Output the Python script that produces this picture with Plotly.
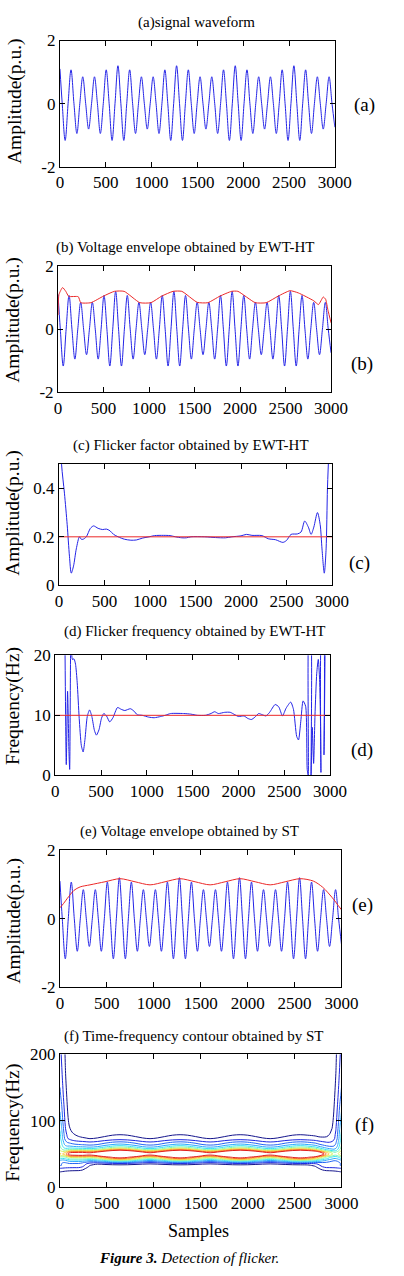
import plotly.graph_objects as go

W, H = 404, 1276
FONT = "Liberation Serif"

# ---------------- data ----------------
x_ticks = [0, 500, 1000, 1500, 2000, 2500, 3000]

# signal waveform: extrema and zero crossings
wave_x = [0, 25, 57, 89, 121, 153, 185, 217, 249, 281, 313, 345, 377, 409, 441, 473, 505, 537, 569,
          601, 633, 665, 697, 729, 761, 793, 825, 857, 889, 921, 953, 985, 1017, 1049, 1081, 1113,
          1145, 1177, 1209, 1241, 1273, 1305, 1337, 1369, 1401, 1433, 1465, 1497, 1529, 1561, 1593,
          1625, 1657, 1689, 1721, 1753, 1785, 1817, 1849, 1881, 1913, 1945, 1977, 2009, 2041, 2073,
          2105, 2137, 2169, 2201, 2233, 2265, 2297, 2329, 2361, 2393, 2425, 2457, 2489, 2521, 2553,
          2585, 2617, 2649, 2681, 2713, 2745, 2777, 2809, 2841, 2873, 2905, 2937, 2969, 3000]
wave_y = [1.1,
          0, -1.17, 0, 1.07, 0, -0.95, 0, 0.85, 0, -0.81, 0, 0.85, 0, -0.95, 0, 1.07, 0, -1.17, 0, 1.2,
          0, -1.17, 0, 1.07, 0, -0.95, 0, 0.85, 0, -0.81, 0, 0.85, 0, -0.95, 0, 1.07, 0, -1.17, 0, 1.2,
          0, -1.17, 0, 1.07, 0, -0.95, 0, 0.85, 0, -0.81, 0, 0.85, 0, -0.95, 0, 1.07, 0, -1.17, 0, 1.2,
          0, -1.17, 0, 1.07, 0, -0.95, 0, 0.85, 0, -0.81, 0, 0.85, 0, -0.95, 0, 1.07, 0, -1.17, 0, 1.2,
          0, -1.17, 0, 1.07, 0, -0.95, 0, 0.85, 0, -0.81, 0, 0.85,
          0, -0.75]

# (b) EWT-HT voltage envelope
env_ewt_x = [0, 10, 50, 85, 118, 222, 250, 361, 500, 620, 726, 899, 1021, 1140, 1264, 1360, 1530,
             1646, 1780, 1907, 1976, 2167, 2288, 2420, 2549, 2640, 2810, 2862, 2914, 2940, 2966, 3000]
env_ewt_y = [0.45, 1.1, 1.32, 1.2, 1.04, 1.03, 0.84, 0.84, 1.05, 1.2, 1.2, 0.84, 0.84, 1.05, 1.2, 1.2, 0.85,
             0.84, 1.05, 1.2, 1.2, 0.84, 0.84, 1.05, 1.22, 1.15, 0.9, 0.78, 1.02, 0.95, 0.6, 0.2]

# (c) flicker factor
flick_x = [5, 28, 60, 90, 115, 135, 160, 190, 225, 245, 265, 300, 345, 380, 430, 480, 520, 560, 600, 650,
           720, 790, 850, 920, 990, 1050, 1150, 1220, 1280, 1350, 1400, 1450, 1600, 1720, 1830, 1900, 2000,
           2060, 2120, 2230, 2300, 2380, 2460, 2500, 2550, 2620, 2660, 2700, 2740, 2770, 2800, 2840, 2870,
           2890, 2915, 2935, 2950, 2965, 2985]
flick_y = [0.75, 0.5, 0.38, 0.25, 0.12, 0.05, 0.08, 0.15, 0.2, 0.19, 0.19, 0.2, 0.235, 0.245, 0.235, 0.23,
           0.232, 0.225, 0.21, 0.2, 0.19, 0.186, 0.187, 0.195, 0.2, 0.205, 0.206, 0.205, 0.2, 0.196, 0.196,
           0.2, 0.2, 0.197, 0.196, 0.2, 0.204, 0.21, 0.206, 0.205, 0.192, 0.188, 0.177, 0.185, 0.21, 0.212,
           0.22, 0.265, 0.24, 0.21, 0.24, 0.3, 0.25, 0.15, 0.05, 0.15, 0.4, 0.55, 0.75]
flick_ref_x = [0, 3000]
flick_ref_y = [0.2, 0.2]

# (d) flicker frequency
ffreq_x = [100, 121, 135, 150, 158, 172, 188, 205, 222, 240, 262, 285, 305, 325, 350, 375, 400, 428, 450,
           478, 505, 530, 560, 595, 630, 680, 720, 760, 820, 860, 895, 950, 1020, 1080, 1150, 1200, 1260,
           1400, 1480, 1550, 1640, 1700, 1740, 1780, 1850, 1910, 1960, 2000, 2060, 2100, 2140, 2180, 2220,
           2260, 2300, 2340, 2400, 2440, 2480, 2520, 2570, 2600, 2635, 2655, 2680, 2705, 2733, 2750, 2761,
           2772, 2785, 2792, 2805, 2820, 2835, 2854, 2871, 2885, 2895, 2900, 2910, 2925, 2933, 2947]
ffreq_y = [35, 1.8, 14, 4, 1.0, 25, 19.3, 19.4, 18.5, 15.5, 9.5, 5.0, 3.9, 6.0, 9.8, 10.9, 9.8, 7.5, 6.7,
           7.6, 9.5, 10.3, 9.9, 8.9, 9.6, 11.3, 11.0, 10.8, 11.1, 10.7, 10.1, 10.0, 9.7, 9.6, 9.8, 10.0, 10.3,
           10.3, 10.2, 10.0, 10.0, 10.3, 10.6, 10.3, 10.5, 10.5, 10.1, 9.8, 9.9, 9.5, 9.3, 9.7, 10.3,
           10.1, 9.9, 10.5, 11.8, 11.4, 9.9, 11.2, 12.2, 11.0, 6.5, 5.9, 9.0, 12.4, 11.5, 1.0, 0.0,
           25, 25, 0.0, 8, 2, 10, 17, 19.3, 16, 9, 0.5, 25, 25, 3.4, 25]
ffreq_ref_x = [0, 3000]
ffreq_ref_y = [10, 10]

# (e) ST voltage envelope
env_st_x = [0, 40, 80, 150, 215, 320, 480, 640, 800, 960, 1120, 1280, 1440, 1600, 1760, 1920, 2080,
            2240, 2400, 2560, 2700, 2800, 2900, 3000]
env_st_y = [0.32, 0.45, 0.6, 0.83, 0.93, 0.99, 1.08, 1.17, 1.08, 0.99, 1.08, 1.17, 1.08, 0.99, 1.08, 1.17,
            1.08, 0.99, 1.08, 1.17, 1.1, 0.92, 0.62, 0.26]

# (f) ST time-frequency magnitude, read as separable pieces
t_grid = [0, 10, 20, 30, 45, 60, 80, 100, 130, 160, 200, 240, 280, 320,
          400, 480, 560, 640, 720, 800, 880, 960, 1040, 1120, 1200, 1280, 1360, 1440, 1520, 1600, 1680,
          1760, 1840, 1920, 2000, 2080, 2160, 2240, 2320, 2400, 2480, 2560, 2640, 2720,
          2760, 2800, 2840, 2870, 2900, 2920, 2940, 2955, 2970, 2980, 2990, 3000]
band_amp = [0.4, 0.42, 0.45, 0.5, 0.58, 0.68, 0.8, 0.92, 0.98, 1.0, 1.02, 1.03, 1.01, 1.0,
            1.08, 1.27, 1.45, 1.53, 1.45, 1.27, 1.08, 1.0, 1.08, 1.27, 1.45, 1.53, 1.45, 1.27, 1.08, 1.0,
            1.08, 1.27, 1.45, 1.53, 1.45, 1.27, 1.08, 1.0, 1.08, 1.27, 1.45, 1.53, 1.45, 1.27,
            1.1, 0.95, 0.8, 0.7, 0.6, 0.52, 0.47, 0.44, 0.42, 0.41, 0.4, 0.4]
edge_fast = [1.0, 0.9, 0.8, 0.68, 0.52, 0.38, 0.26, 0.18, 0.11, 0.07, 0.04, 0.02, 0.01, 0.0,
             0, 0, 0, 0, 0, 0, 0, 0, 0, 0, 0, 0, 0, 0, 0, 0,
             0, 0, 0, 0, 0, 0, 0, 0, 0, 0, 0, 0, 0, 0.01,
             0.02, 0.04, 0.07, 0.11, 0.18, 0.26, 0.38, 0.52, 0.68, 0.8, 0.9, 1.0]
edge_slow = [1, 1, 1, 1, 1, 1, 1, 1, 1, 1, 1.0, 0.85, 0.55, 0.25,
             0, 0, 0, 0, 0, 0, 0, 0, 0, 0, 0, 0, 0, 0, 0, 0,
             0, 0, 0, 0, 0, 0, 0, 0, 0, 0, 0, 0, 0.05, 0.3,
             0.6, 0.85, 1, 1, 1, 1, 1, 1, 1, 1, 1, 1]
f_grid = [0, 10, 15, 20, 25, 28, 31, 33, 35, 37, 39, 41, 43, 45, 47, 49, 50, 51, 53, 55, 57, 59, 61, 64,
          67, 70, 73, 76, 79, 83, 88, 95, 100, 110, 120, 140, 160, 180, 200]
band_profile = [0, 0, 0, 0, 0, 0, 0.02, 0.05, 0.1, 0.2, 0.33, 0.45, 0.6, 0.7, 0.9, 1.05, 1.087, 1.05, 0.92,
                0.7, 0.55, 0.45, 0.37, 0.28, 0.22, 0.16, 0.1, 0.08, 0.065, 0.045, 0.025, 0.01, 0.005,
                0, 0, 0, 0, 0, 0]
leak_fast = [0, 0.005, 0.01, 0.01, 0.02, 0.03, 0.05, 0.07, 0.09, 0.12, 0.16, 0.2, 0.25, 0.3, 0.34, 0.37,
             0.38, 0.39, 0.41, 0.43, 0.45, 0.46, 0.47, 0.48, 0.49, 0.5, 0.5, 0.5, 0.5, 0.49, 0.48, 0.46,
             0.44, 0.41, 0.38, 0.32, 0.28, 0.25, 0.23]
leak_slow = [0, 0.01, 0.03, 0.06, 0.1, 0.16, 0.22, 0.22, 0.18, 0.12, 0.07, 0.04, 0.02, 0, 0, 0, 0, 0, 0,
             0, 0, 0, 0, 0, 0, 0, 0, 0, 0, 0, 0, 0, 0, 0, 0, 0, 0, 0, 0]

z_tf = [[band_amp[j] * band_profile[i] + edge_fast[j] * leak_fast[i] + edge_slow[j] * leak_slow[i]
         for j in range(len(t_grid))] for i in range(len(f_grid))]

# ---------------- layout helpers ----------------
panels = [
    dict(box=(59, 32, 349, 160), title="(a)signal waveform", txy=(203, 14), label="(a)", lxy=(380, 97),
         ytitle="Amplitude(p.u.)", yxy=(11, 93), yr=[-2, 2], yt=[-2, 0, 2], ytt=["-2", "0", "2"]),
    dict(box=(57, 261, 345, 389), title="(b) Voltage envelope obtained by EWT-HT", txy=(191, 242), label="(b)",
         lxy=(378, 360), ytitle="Amplitude(p.u.)", yxy=(10, 315), yr=[-2, 2], yt=[-2, 0, 2], ytt=["-2", "0", "2"]),
    dict(box=(58, 462, 346, 585), title="(c) Flicker factor obtained by EWT-HT", txy=(197, 443), label="(c)",
         lxy=(375, 562), ytitle="Amplitude(p.u.)", yxy=(10, 511), yr=[0, 0.5], yt=[0, 0.2, 0.4],
         ytt=["0", "0.2", "0.4"]),
    dict(box=(54, 656, 344, 778), title="(d) Flicker frequency obtained by EWT-HT", txy=(201, 632), label="(d)",
         lxy=(378, 752), ytitle="Frequency(Hz)", yxy=(10, 707), yr=[0, 20], yt=[0, 10, 20], ytt=["0", "10", "20"]),
    dict(box=(59, 854, 356, 993), title="(e) Voltage envelope obtained by ST", txy=(196, 835), label="(e)",
         lxy=(378, 910), ytitle="Amplitude(p.u.)", yxy=(11, 925), yr=[-2, 2], yt=[-2, 0, 2], ytt=["-2", "0", "2"]),
    dict(box=(59, 1061, 356, 1196), title="(f) Time-frequency contour obtained by ST", txy=(200, 1043),
         label="(f)", lxy=(380, 1133), ytitle="Frequency(Hz)", yxy=(10, 1130), yr=[0, 200], yt=[0, 100, 200],
         ytt=["0", "100", "200"]),
]

BLUE = "rgb(35,35,230)"
RED = "rgb(235,40,40)"

fig = go.Figure()


def axn(i):
    return ("x" if i == 1 else f"x{i}"), ("y" if i == 1 else f"y{i}")


def add_line(i, x, y, color, shape="linear", smoothing=1.0):
    xa, ya = axn(i)
    fig.add_trace(go.Scatter(x=x, y=y, mode="lines", xaxis=xa, yaxis=ya, showlegend=False,
                             line=dict(color=color, width=1, shape=shape,
                                       smoothing=smoothing if shape == "spline" else None),
                             hoverinfo="skip"))


add_line(1, wave_x, wave_y, BLUE, "spline")
add_line(2, wave_x, wave_y, BLUE, "spline")
add_line(2, env_ewt_x, env_ewt_y, RED, "spline", 0.5)
add_line(3, flick_x, flick_y, BLUE, "spline", 0.8)
add_line(3, flick_ref_x, flick_ref_y, RED)
add_line(4, ffreq_x, ffreq_y, BLUE, "spline", 0.6)
add_line(4, ffreq_ref_x, ffreq_ref_y, RED)
add_line(5, wave_x, wave_y, BLUE, "spline")
add_line(5, env_st_x, env_st_y, RED, "spline", 0.8)

jet = [[0.0, "rgb(20,20,140)"], [0.12, "rgb(30,40,230)"], [0.3, "rgb(40,150,255)"],
       [0.45, "rgb(60,230,240)"], [0.58, "rgb(150,250,160)"], [0.72, "rgb(250,235,60)"],
       [0.86, "rgb(255,140,40)"], [1.0, "rgb(225,30,30)"]]
fig.add_trace(go.Contour(x=t_grid, y=f_grid, z=z_tf, xaxis="x6", yaxis="y6", showscale=False,
                         colorscale=jet, zauto=False, zmin=0.1, zmax=1.0,
                         contours=dict(coloring="lines", start=0.1, end=1.0, size=0.1, showlabels=False),
                         line=dict(width=1), hoverinfo="skip"))

layout = dict(width=W, height=H, margin=dict(l=0, r=0, t=0, b=0), paper_bgcolor="white",
              plot_bgcolor="white", showlegend=False, annotations=[])

tickfont = dict(family=FONT, size=17, color="black")
for i, p in enumerate(panels, 1):
    l, t, r, b = p["box"]
    xk = "xaxis" if i == 1 else f"xaxis{i}"
    yk = "yaxis" if i == 1 else f"yaxis{i}"
    xa, ya = axn(i)
    common = dict(ticks="inside", ticklen=5, tickcolor="black", tickwidth=1, showline=True, linecolor="black",
                  linewidth=1, mirror="ticks", showgrid=False, zeroline=False, tickfont=tickfont, fixedrange=True)
    layout[xk] = dict(domain=[l / W, r / W], anchor=ya, range=[0, 3000], tickmode="array", tickvals=x_ticks,
                      ticktext=[str(v) for v in x_ticks], **common)
    layout[yk] = dict(domain=[1 - b / H, 1 - t / H], anchor=xa, range=p["yr"], tickmode="array",
                      tickvals=p["yt"], ticktext=p["ytt"], **common)
    layout["annotations"].append(dict(text=p["title"], x=p["txy"][0] / W, y=1 - p["txy"][1] / H, xref="paper",
                                      yref="paper", showarrow=False, xanchor="center", yanchor="middle",
                                      font=dict(family=FONT, size=15, color="black")))
    layout["annotations"].append(dict(text=p["label"], x=p["lxy"][0] / W, y=1 - p["lxy"][1] / H, xref="paper",
                                      yref="paper", showarrow=False, xanchor="center", yanchor="middle",
                                      font=dict(family=FONT, size=19, color="black")))
    layout["annotations"].append(dict(text=p["ytitle"], x=p["yxy"][0] / W, y=1 - p["yxy"][1] / H, xref="paper",
                                      yref="paper", showarrow=False, xanchor="center", yanchor="middle",
                                      textangle=-90, font=dict(family=FONT, size=19.5, color="black")))

layout["annotations"].append(dict(text="Samples", x=205 / W, y=1 - 1240 / H, xref="paper", yref="paper",
                                  showarrow=False, xanchor="center", yanchor="middle",
                                  font=dict(family=FONT, size=18, color="black")))
layout["annotations"].append(dict(text="<b><i>Figure 3.</i></b><i> Detection of flicker.</i>", x=195 / W,
                                  y=1 - 1268 / H, xref="paper", yref="paper", showarrow=False,
                                  xanchor="center", yanchor="middle",
                                  font=dict(family=FONT, size=15, color="black")))

fig.update_layout(**layout)
fig.write_html("out.html")
